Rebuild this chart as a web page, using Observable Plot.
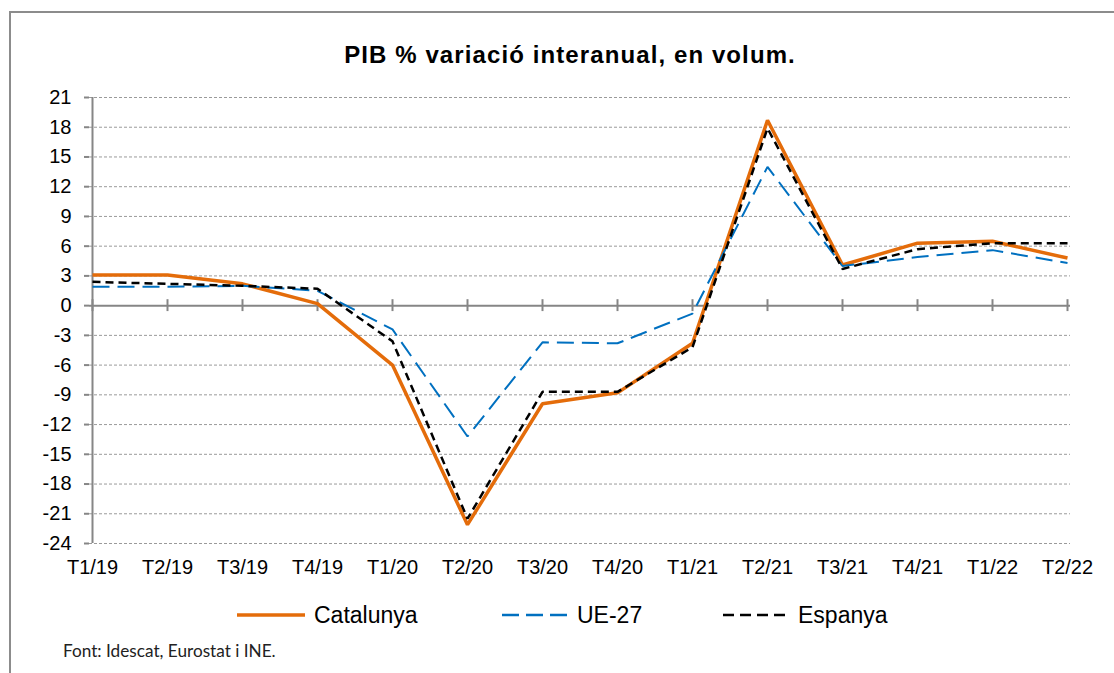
<!DOCTYPE html>
<html>
<head>
<meta charset="utf-8">
<script src="https://cdn.jsdelivr.net/npm/d3@7"></script>
<script src="https://cdn.jsdelivr.net/npm/@observablehq/plot@0.6"></script>
<style>
  html, body { margin: 0; padding: 0; background: #fff; }
  #wrap { position: relative; width: 1114px; height: 673px; overflow: hidden; font-family: "Liberation Sans", Arial, sans-serif; }
  #frameTop { position: absolute; left: 9px; top: 11px; width: 1105px; height: 2px; background: #8c8c8c; }
  #frameLeft { position: absolute; left: 9px; top: 11px; width: 2px; height: 662px; background: #8c8c8c; }
  #title { position: absolute; left: 0; width: 1140px; top: 41px; text-align: center; font-weight: bold; font-size: 24px; letter-spacing: 1.1px; color: #000; }
  #chart { position: absolute; left: 0; top: 0; }
  .leg { position: absolute; top: 600px; height: 30px; display: flex; align-items: center; font-size: 23px; color: #000; }
  .leg svg { margin-right: 9px; }
  #caption { position: absolute; left: 63px; top: 640px; font-family: Lato, sans-serif; font-size: 17.2px; color: #222; }
</style>
</head>
<body>
<div id="wrap">
  <div id="frameTop"></div>
  <div id="frameLeft"></div>
  <div id="title">PIB % variació interanual, en volum.</div>
  <div id="chart"></div>
  <div id="legend"></div>
  <div id="caption">Font: Idescat, Eurostat i INE.</div>
</div>
<script>
const quarters = ["T1/19","T2/19","T3/19","T4/19","T1/20","T2/20","T3/20","T4/20","T1/21","T2/21","T3/21","T4/21","T1/22","T2/22"];
const catalunya = [3.1, 3.1, 2.2, 0.2, -6.0, -22.1, -9.9, -8.8, -3.8, 18.7, 4.1, 6.3, 6.5, 4.8];
const ue27      = [1.9, 1.9, 2.0, 1.5, -2.4, -13.2, -3.7, -3.8, -0.8, 14.0, 4.0, 4.9, 5.6, 4.3];
const espanya   = [2.4, 2.2, 2.0, 1.7, -3.6, -21.5, -8.7, -8.7, -4.2, 17.9, 3.7, 5.7, 6.3, 6.3];
const yTicks = [21, 18, 15, 12, 9, 6, 3, 0, -3, -6, -9, -12, -15, -18, -21, -24];

const seriesNames = ["Catalunya", "UE-27", "Espanya"];
const seriesValues = [catalunya, ue27, espanya];
const seriesStyle = [
  {stroke: "#E46C0A", strokeWidth: 3.5, dash: null, legDash: null, legLeft: 237},
  {stroke: "#0070C0", strokeWidth: 2, dash: "17,8", legDash: "17,7", legLeft: 502},
  {stroke: "#000000", strokeWidth: 2.5, dash: "8,5", legDash: "11,6", legLeft: 723}
];

const rows = [];
seriesNames.forEach((s, i) => quarters.forEach((q, j) => rows.push({serie: s, q, v: seriesValues[i][j]})));

const axisColor = "#868686";
const plot = Plot.plot({
  width: 1114,
  height: 600,
  marginLeft: 89,
  marginRight: 44,
  marginTop: 97,
  marginBottom: 57,
  style: {fontFamily: "'Liberation Sans', Arial, sans-serif", fontSize: "20px", color: "#000", background: "transparent"},
  x: {type: "point", domain: quarters, padding: 0},
  y: {domain: [-24, 21]},
  marks: [
    Plot.gridY(yTicks.filter(d => d !== 0), {stroke: "#9a9a9a", strokeOpacity: 1, strokeWidth: 1, strokeDasharray: "3,2"}),
    Plot.axisY(yTicks, {tickSize: 5, tickPadding: 13, stroke: axisColor, strokeWidth: 2, label: null, fill: "#000", tickFormat: d => String(d)}),
    Plot.ruleX([quarters[0]], {y1: -24, y2: 21, stroke: axisColor, strokeWidth: 2}),
    Plot.axisX(quarters, {anchor: "bottom", tickSize: 0, tickPadding: 16, label: null, fill: "#000"}),
    Plot.ruleY([0], {stroke: axisColor, strokeWidth: 2}),
    Plot.ruleX(quarters, {x: d => d, y1: -0.6, y2: 0.6, stroke: axisColor, strokeWidth: 2}),
    ...seriesNames.map((s, i) => Plot.line(rows.filter(r => r.serie === s), {
      x: "q", y: "v",
      stroke: seriesStyle[i].stroke,
      strokeWidth: seriesStyle[i].strokeWidth,
      strokeDasharray: seriesStyle[i].dash,
      strokeLinejoin: "miter",
      strokeLinecap: "butt"
    }))
  ]
});
document.getElementById("chart").appendChild(plot);

const legend = document.getElementById("legend");
seriesNames.forEach((s, i) => {
  const st = seriesStyle[i];
  const item = document.createElement("div");
  item.className = "leg";
  item.style.left = st.legLeft + "px";
  const w = i === 0 ? 68 : 66;
  item.innerHTML = `<svg width="${w}" height="10"><line x1="0" x2="${w}" y1="5" y2="5" stroke="${st.stroke}" stroke-width="${i === 0 ? 3.5 : 2.5}" ${st.legDash ? `stroke-dasharray="${st.legDash}"` : ""}/></svg><span>${s}</span>`;
  legend.appendChild(item);
});
</script>
</body>
</html>
